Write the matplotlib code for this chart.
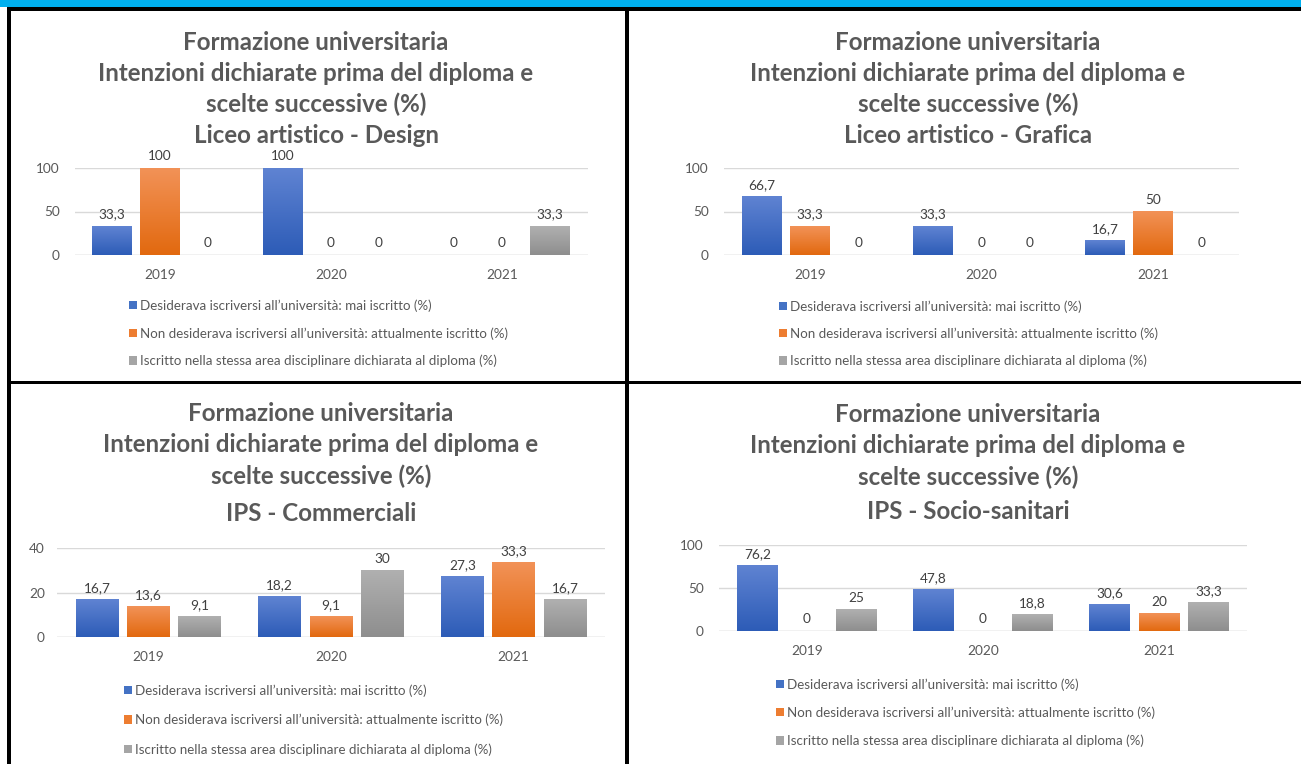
import numpy as np
import matplotlib
matplotlib.use("Agg")
import matplotlib.pyplot as plt
from matplotlib.patches import Rectangle
from matplotlib.colors import LinearSegmentedColormap

plt.rcParams['font.family'] = ['Lato', 'DejaVu Sans']

# ---------------- data ----------------
years = ['2019', '2020', '2021']
series_labels = [
    "Desiderava iscriversi all\u2019universit\u00e0: mai iscritto (%)",
    "Non desiderava iscriversi all\u2019universit\u00e0: attualmente iscritto (%)",
    "Iscritto nella stessa area disciplinare dichiarata al diploma (%)",
]
title_common = ["Formazione universitaria",
                "Intenzioni dichiarate prima del diploma e",
                "scelte successive (%)"]

design_mai = [33.3, 100, 0]
design_non = [100, 0, 0]
design_stessa = [0, 0, 33.3]

grafica_mai = [66.7, 33.3, 16.7]
grafica_non = [33.3, 0, 50]
grafica_stessa = [0, 0, 0]

commerciali_mai = [16.7, 18.2, 27.3]
commerciali_non = [13.6, 9.1, 33.3]
commerciali_stessa = [9.1, 30, 16.7]

socio_mai = [76.2, 47.8, 30.6]
socio_non = [0, 0, 20]
socio_stessa = [25, 18.8, 33.3]

subtitles = ["Liceo artistico - Design", "Liceo artistico - Grafica",
             "IPS - Commerciali", "IPS - Socio-sanitari"]
yticks_list = [[0, 50, 100], [0, 50, 100], [0, 20, 40], [0, 50, 100]]

panel_data = [
    (design_mai, design_non, design_stessa),
    (grafica_mai, grafica_non, grafica_stessa),
    (commerciali_mai, commerciali_non, commerciali_stessa),
    (socio_mai, socio_non, socio_stessa),
]

# ---------------- style / layout ----------------
W, H = 1301, 764
fig = plt.figure(figsize=(W / 100, H / 100), dpi=100)
fig.patch.set_facecolor('white')

colors_mid = ['#4472c4', '#ed7d31', '#a5a5a5']
grad_top = ['#5f83d2', '#f29257', '#b0b0b0']
grad_bot = ['#2d5cb7', '#e2690f', '#8e8e8e']

# layout in pixels
layouts = [
    dict(L=74.5, R=587.5, y0=255, yt=168, ypad=10.5, tcx=316, tby=[50, 81, 112, 143],
         legx=129, legy=299, lsp=1.15),
    dict(L=724, R=1239, y0=255, yt=168, ypad=11, tcx=968, tby=[50, 81, 112, 143],
         legx=779, legy=300, lsp=1.1),
    dict(L=57, R=605, y0=637, yt=548, ypad=8.8, tcx=321, tby=[421, 452, 484, 521],
         legx=124, legy=684, lsp=1.27),
    dict(L=719, R=1247, y0=631, yt=545, ypad=11, tcx=968, tby=[422, 453, 485, 519],
         legx=776, legy=678, lsp=1.17),
]


def fmt(v):
    return f"{v:g}".replace('.', ',')


def rect_px(x, y, w, h, color):
    fig.add_artist(Rectangle((x / W, 1 - (y + h) / H), w / W, h / H,
                             transform=fig.transFigure, facecolor=color,
                             edgecolor='none', zorder=10))


for idx, (data, lay) in enumerate(zip(panel_data, layouts)):
    ax = fig.add_axes([lay['L'] / W, 1 - lay['y0'] / H,
                       (lay['R'] - lay['L']) / W, (lay['y0'] - lay['yt']) / H])
    ticks = yticks_list[idx]
    x = np.arange(len(years))
    width = 0.232
    offs = [-0.281, 0, 0.281]
    handles = []
    for s, vals in enumerate(data):
        bars = ax.bar(x + offs[s], vals, width, color=colors_mid[s],
                      label=series_labels[s], zorder=2)
        handles.append(bars)
        cmap = LinearSegmentedColormap.from_list('g', [grad_bot[s], grad_top[s]])
        for b in bars:
            h = b.get_height()
            if h > 0:
                x0 = b.get_x()
                ax.imshow(np.linspace(0, 1, 64).reshape(-1, 1),
                          extent=[x0, x0 + b.get_width(), 0, h], origin='lower',
                          cmap=cmap, aspect='auto', zorder=2.5,
                          interpolation='bicubic')
        ax.bar_label(bars, labels=[fmt(v) for v in vals], padding=4,
                     fontsize=9.8, color='#404040')
    ax.set_xlim(-0.5, len(years) - 0.5)
    ax.set_ylim(ticks[0], ticks[-1])
    ax.set_yticks(ticks)
    ax.set_xticks(x)
    ax.set_xticklabels(years)
    ax.grid(axis='y', color='#d9d9d9', linewidth=1.0, zorder=0)
    ax.set_axisbelow(True)
    for sp in ax.spines.values():
        sp.set_visible(False)
    ax.axhline(0, color='#d9d9d9', linewidth=1.0, zorder=1)
    ax.tick_params(axis='both', length=0, labelsize=9.8, labelcolor='#595959')
    ax.tick_params(axis='y', pad=lay['ypad'])
    ax.tick_params(axis='x', pad=10)
    ax.set_facecolor('none')

    # titles
    lines = title_common + [subtitles[idx]]
    for ln, yb in zip(lines, lay['tby']):
        fig.text(lay['tcx'] / W, 1 - yb / H, ln, ha='center', va='baseline',
                 fontsize=17.4, fontweight='bold', color='#595959')

    ax.legend(handles=handles, labels=series_labels, loc='upper left',
              bbox_to_anchor=(lay['legx'] / W, 1 - lay['legy'] / H),
              bbox_transform=fig.transFigure, frameon=False,
              fontsize=9.65, labelcolor='#595959', borderpad=0,
              borderaxespad=0, handlelength=0.6, handleheight=0.6,
              handletextpad=0.2, labelspacing=lay['lsp'])

# frame decorations
rect_px(0, 0, W, 7.3, '#00b0f0')
rect_px(7, 7.3, W - 7, 3.7, 'black')
rect_px(7, 7.3, 4, H - 7.3, 'black')
rect_px(625, 7.3, 3.5, H - 7.3, 'black')
rect_px(7, 380.8, W - 7, 3.4, 'black')

fig.savefig('out.png', dpi=100, facecolor='white')
